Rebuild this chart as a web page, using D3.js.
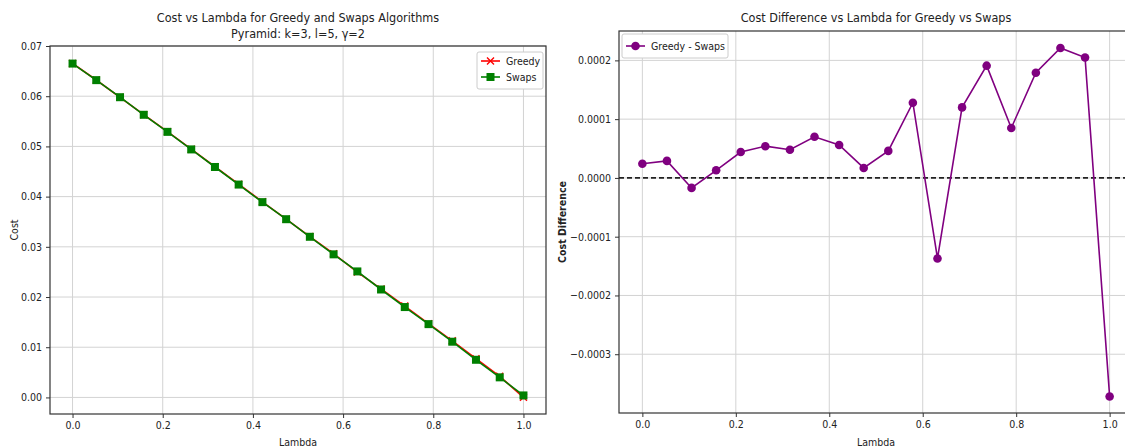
<!DOCTYPE html>
<html>
<head>
<meta charset="utf-8">
<script src="https://cdn.jsdelivr.net/npm/d3@7"></script>
<style>
  body { margin: 0; background: #fff; }
  svg text { font-family: "DejaVu Sans Condensed", "DejaVu Sans", sans-serif; fill: #222; }
  .grid line { stroke: #d3d3d3; stroke-width: 1; }
  .axis path, .axis line { stroke: #333; }
  .axis text { font-size: 10.5px; }
</style>
</head>
<body>
<div id="chart"></div>
<script>
// lambda values (20 evenly spaced points)
var lambdas = [0, 0.0526, 0.1053, 0.1579, 0.2105, 0.2632, 0.3158, 0.3684, 0.4211, 0.4737,
               0.5263, 0.5789, 0.6316, 0.6842, 0.7368, 0.7895, 0.8421, 0.8947, 0.9474, 1.0];

// cost of the swaps algorithm
var swapsCost = [0.0665, 0.0632, 0.0598, 0.0563, 0.0529, 0.0494, 0.0459, 0.0424, 0.0389, 0.0355,
                 0.0320, 0.0285, 0.0251, 0.0215, 0.0180, 0.0146, 0.0111, 0.0075, 0.0040, 0.0004];

// greedy - swaps
var costDiff = [0.000024, 0.000029, -0.000017, 0.000013, 0.000044, 0.000054, 0.000048, 0.000070, 0.000056, 0.000017,
                0.000046, 0.000128, -0.000137, 0.000120, 0.000191, 0.000085, 0.000179, 0.000221, 0.000205, -0.000372];

// greedy cost = swaps + difference
var greedyCost = swapsCost.map(function (d, i) { return d + costDiff[i]; });

var xTicks = [0, 0.2, 0.4, 0.6, 0.8, 1.0];
var leftYTicks = [0, 0.01, 0.02, 0.03, 0.04, 0.05, 0.06, 0.07];
var rightYTicks = [-0.0003, -0.0002, -0.0001, 0, 0.0001, 0.0002];

var W = 1125, H = 447;
var svg = d3.select("#chart").append("svg")
  .attr("width", W).attr("height", H);

var minus = function (s) { return s.replace("-", "\u2212"); };

function drawPanel(box, yDomain, yTicks, yFmt) {
  var x = d3.scaleLinear().domain([-0.05, 1.05]).range([box.left, box.right]);
  var y = d3.scaleLinear().domain(yDomain).range([box.bottom, box.top]);

  var clip = "clip" + box.left;
  svg.append("clipPath").attr("id", clip).append("rect")
    .attr("x", box.left).attr("y", box.top)
    .attr("width", box.right - box.left).attr("height", box.bottom - box.top);

  var grid = svg.append("g").attr("class", "grid");
  grid.selectAll(".gx").data(xTicks).enter().append("line")
    .attr("x1", function (d) { return x(d); }).attr("x2", function (d) { return x(d); })
    .attr("y1", box.top).attr("y2", box.bottom);
  grid.selectAll(".gy").data(yTicks).enter().append("line")
    .attr("y1", function (d) { return y(d); }).attr("y2", function (d) { return y(d); })
    .attr("x1", box.left).attr("x2", box.right);

  svg.append("g").attr("class", "axis")
    .attr("transform", "translate(0," + box.bottom + ")")
    .call(d3.axisBottom(x).tickValues(xTicks).tickSize(4).tickSizeOuter(0).tickPadding(4).tickFormat(d3.format(".1f")));
  svg.append("g").attr("class", "axis")
    .attr("transform", "translate(" + box.left + ",0)")
    .call(d3.axisLeft(y).tickValues(yTicks).tickSize(4).tickSizeOuter(0).tickPadding(4)
      .tickFormat(function (d) { return minus(yFmt(d)); }));

  // frame
  svg.append("rect")
    .attr("x", box.left).attr("y", box.top)
    .attr("width", box.right - box.left).attr("height", box.bottom - box.top)
    .attr("fill", "none").attr("stroke", "#333").attr("stroke-width", 1.2);

  svg.selectAll(".axis .domain").remove();
  return { x: x, y: y, clip: clip };
}

// ---------- left panel ----------
var L = { left: 50, right: 546, top: 46, bottom: 414 };
var p1 = drawPanel(L, [-0.0033, 0.0700], leftYTicks, d3.format(".2f"));

var line1 = function (vals) {
  return d3.line().x(function (d, i) { return p1.x(lambdas[i]); }).y(function (d) { return p1.y(d); })(vals);
};
var g1 = svg.append("g").attr("clip-path", "url(#" + p1.clip + ")");

g1.append("path").attr("d", line1(greedyCost))
  .attr("fill", "none").attr("stroke", "red").attr("stroke-width", 1.6);
g1.selectAll(".gm").data(greedyCost).enter().append("path")
  .attr("transform", function (d, i) { return "translate(" + p1.x(lambdas[i]) + "," + p1.y(d) + ")"; })
  .attr("d", "M-3.5,-3.5L3.5,3.5M-3.5,3.5L3.5,-3.5")
  .attr("stroke", "red").attr("stroke-width", 1.4);

g1.append("path").attr("d", line1(swapsCost))
  .attr("fill", "none").attr("stroke", "green").attr("stroke-width", 1.6);
g1.selectAll(".sm").data(swapsCost).enter().append("rect")
  .attr("x", function (d, i) { return p1.x(lambdas[i]) - 4; })
  .attr("y", function (d) { return p1.y(d) - 4; })
  .attr("width", 8).attr("height", 8).attr("fill", "green");

svg.append("text").attr("x", (L.left + L.right) / 2).attr("y", 22)
  .attr("text-anchor", "middle").style("font-size", "12.5px")
  .text("Cost vs Lambda for Greedy and Swaps Algorithms");
svg.append("text").attr("x", (L.left + L.right) / 2).attr("y", 38)
  .attr("text-anchor", "middle").style("font-size", "12.5px")
  .text("Pyramid: k=3, l=5, \u03b3=2");
svg.append("text").attr("x", (L.left + L.right) / 2).attr("y", 446)
  .attr("text-anchor", "middle").style("font-size", "10.5px").text("Lambda");
svg.append("text").attr("transform", "translate(18," + (L.top + L.bottom) / 2 + ") rotate(-90)")
  .attr("text-anchor", "middle").style("font-size", "10.5px").text("Cost");

// legend left
var leg1 = svg.append("g");
leg1.append("rect").attr("x", 477).attr("y", 52).attr("width", 66).attr("height", 37)
  .attr("rx", 2).attr("fill", "#fff").attr("stroke", "#ccc");
leg1.append("line").attr("x1", 481).attr("x2", 500).attr("y1", 61).attr("y2", 61)
  .attr("stroke", "red").attr("stroke-width", 1.6);
leg1.append("path").attr("transform", "translate(490.5,61)")
  .attr("d", "M-3.5,-3.5L3.5,3.5M-3.5,3.5L3.5,-3.5").attr("stroke", "red").attr("stroke-width", 1.4);
leg1.append("text").attr("x", 506).attr("y", 65).style("font-size", "10.5px").text("Greedy");
leg1.append("line").attr("x1", 481).attr("x2", 500).attr("y1", 77).attr("y2", 77)
  .attr("stroke", "green").attr("stroke-width", 1.6);
leg1.append("rect").attr("x", 486.5).attr("y", 73).attr("width", 8).attr("height", 8).attr("fill", "green");
leg1.append("text").attr("x", 506).attr("y", 81).style("font-size", "10.5px").text("Swaps");

// ---------- right panel ----------
var R = { left: 619, right: 1133, top: 31, bottom: 413 };
var p2 = drawPanel(R, [-0.0004, 0.00025], rightYTicks, d3.format(".4f"));
var g2 = svg.append("g").attr("clip-path", "url(#" + p2.clip + ")");

g2.append("line").attr("x1", R.left).attr("x2", R.right)
  .attr("y1", p2.y(0)).attr("y2", p2.y(0))
  .attr("stroke", "#222").attr("stroke-width", 1.6).attr("stroke-dasharray", "5,3");

g2.append("path")
  .attr("d", d3.line().x(function (d, i) { return p2.x(lambdas[i]); }).y(function (d) { return p2.y(d); })(costDiff))
  .attr("fill", "none").attr("stroke", "purple").attr("stroke-width", 1.6);
g2.selectAll(".dm").data(costDiff).enter().append("circle")
  .attr("cx", function (d, i) { return p2.x(lambdas[i]); })
  .attr("cy", function (d) { return p2.y(d); })
  .attr("r", 4.3).attr("fill", "purple");

svg.append("text").attr("x", (R.left + R.right) / 2).attr("y", 22)
  .attr("text-anchor", "middle").style("font-size", "12.5px")
  .text("Cost Difference vs Lambda for Greedy vs Swaps");
svg.append("text").attr("x", (R.left + R.right) / 2).attr("y", 446)
  .attr("text-anchor", "middle").style("font-size", "10.5px").text("Lambda");
svg.append("text").attr("transform", "translate(566," + (R.top + R.bottom) / 2 + ") rotate(-90)")
  .attr("text-anchor", "middle").style("font-size", "10.5px").style("font-weight", "bold")
  .text("Cost Difference");

// legend right
var leg2 = svg.append("g");
leg2.append("rect").attr("x", 622).attr("y", 34).attr("width", 106).attr("height", 24)
  .attr("rx", 2).attr("fill", "#fff").attr("stroke", "#ccc");
leg2.append("line").attr("x1", 626).attr("x2", 645).attr("y1", 46).attr("y2", 46)
  .attr("stroke", "purple").attr("stroke-width", 1.6);
leg2.append("circle").attr("cx", 635.5).attr("cy", 46).attr("r", 4.3).attr("fill", "purple");
leg2.append("text").attr("x", 651).attr("y", 50).style("font-size", "10.5px").text("Greedy - Swaps");
</script>
</body>
</html>
